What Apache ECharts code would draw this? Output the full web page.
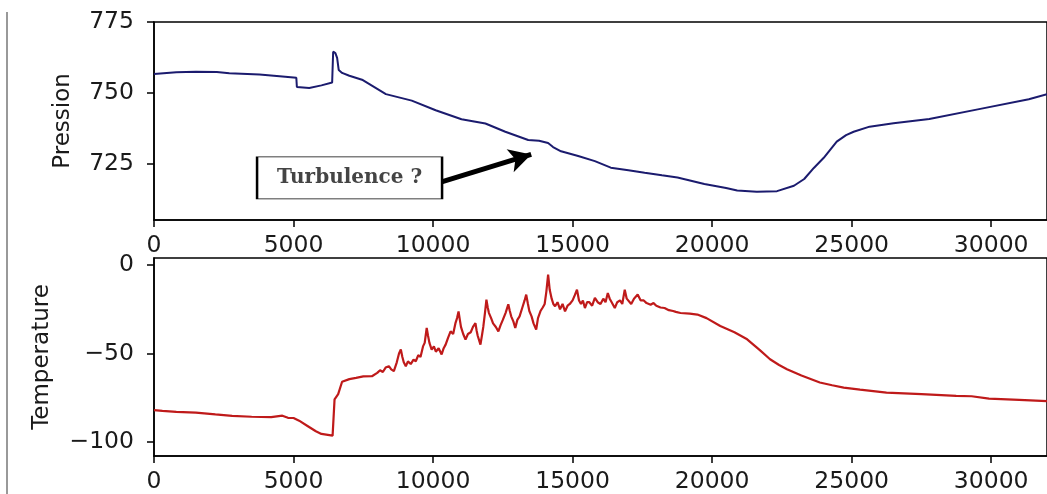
<!DOCTYPE html>
<html>
<head>
<meta charset="utf-8">
<script src="https://cdn.jsdelivr.net/npm/echarts@6/dist/echarts.min.js"></script>
<style>html,body{margin:0;padding:0;background:#fff;}#c{width:1047px;height:494px;}</style>
</head>
<body>
<div id="c"></div>
<script>
// Time axis ticks
const xTicks = [0, 5000, 10000, 15000, 20000, 25000, 30000];
const pressionTicks = [725, 750, 775];
const temperatureTicks = [-100, -50, 0];

// Pression series [x, value]
const pressionX = [0, 800, 1500, 2250, 2700, 3780, 4500, 5100, 5120, 5563, 6000, 6384, 6420, 6500, 6562, 6620, 6740, 7000, 7454, 8310, 9237, 10093, 11020, 11876, 12589, 13409, 13800, 14122, 14300, 14586, 15200, 15798, 16369, 17000, 17582, 18200, 18759, 19722, 20500, 20898, 21600, 22325, 22932, 23300, 23645, 24000, 24465, 24800, 25071, 25642, 26500, 27782, 29565, 31348, 32000];
const pressionY = [756.6, 757.2, 757.4, 757.3, 756.9, 756.4, 755.8, 755.3, 752.0, 751.7, 752.6, 753.6, 764.5, 764, 762.3, 758, 757, 756, 754.6, 749.5, 747.2, 743.8, 740.6, 739.1, 736.2, 733.3, 733.0, 732.2, 730.8, 729.3, 727.6, 725.8, 723.5, 722.6, 721.7, 720.8, 720, 717.7, 716.3, 715.4, 715, 715.2, 717.1, 719.5, 723.4, 727, 732.7, 735, 736.2, 738, 739.2, 740.7, 744.2, 747.7, 749.5];

// Temperature series [x, value]
const temperatureX = [0, 300, 800, 1500, 2200, 2800, 3500, 4200, 4600, 4800, 5000, 5200, 5500, 5800, 6000, 6400, 6450, 6470, 6600, 6740, 7000, 7240, 7500, 7810,
  8000, 8100, 8200, 8300, 8417, 8500, 8595, 8700, 8780, 8845, 8900, 8950, 9023, 9100, 9200, 9300, 9380, 9470, 9550, 9640, 9700, 9772, 9820, 9870, 9950,
  10030, 10100, 10200, 10307, 10380, 10450, 10540, 10628, 10720, 10800, 10860, 10913, 10960, 11000, 11080, 11163, 11250, 11350, 11430, 11519, 11560, 11600,
  11698, 11760, 11800, 11860, 11912, 11960, 12000, 12080, 12150, 12250, 12340, 12420, 12500, 12600, 12696, 12750, 12800, 12880, 12946, 13020, 13100, 13200,
  13280, 13338, 13400, 13450, 13530, 13600, 13695, 13760, 13850, 13930, 14000, 14060, 14123, 14180, 14250, 14310, 14373, 14460, 14550, 14640, 14729, 14820,
  14900, 15000, 15080, 15157, 15230, 15300, 15370, 15442, 15520, 15600, 15700, 15799, 15900, 16000, 16100, 16180, 16262, 16330, 16400, 16512, 16600, 16700,
  16780, 16869, 16940, 17000, 17100, 17200, 17332, 17440, 17550, 17650, 17796, 17900, 18000, 18150, 18295, 18450, 18600, 18700, 18866,
  19200, 19472, 19800, 20292, 20800, 21255, 21700, 22076, 22400, 22682, 23200, 23859, 24300, 24715, 25300, 26248, 27500, 28745, 29300, 29922, 31000, 32000];
const temperatureY = [-82, -82.5, -83, -83.5, -84.5, -85.3, -85.8, -86, -85.2, -86.4, -86.5, -88, -91, -94, -95.5, -96.5, -97, -76, -73, -66, -64.5, -63.8, -63, -62.9,
  -61, -59.5, -60.5, -58, -57.2, -59, -60, -55, -50, -47.8, -52, -55, -57.2, -54.5, -56, -53.5, -54.4, -51, -52, -46, -44, -35.6, -40, -44, -47.8,
  -46, -49, -47, -50.6, -47, -45, -41, -37.5, -39, -33, -30, -26.2, -31, -35, -39, -42.2, -39, -38, -35, -32.8, -37, -40,
  -45, -39, -35, -27, -19.6, -24, -27, -30, -33, -35, -37.5, -34, -31, -27, -22.2, -26, -29, -32, -35.6, -31, -29, -24,
  -20, -16.7, -22, -26, -29, -33, -36.5, -30, -26, -24, -22, -15, -5.4, -14, -19, -22, -23.3, -21, -25, -22, -26.2, -23,
  -22, -20, -17, -13.9, -20, -22, -20, -24.3, -21, -21, -23, -18.6, -21, -22, -19, -21, -15.8, -19, -21, -24.3, -21, -20,
  -22, -13.9, -19, -20, -22, -19, -16.7, -20, -20, -21.5, -22.4, -21.5, -23, -24, -24.3, -25.5, -26, -26.5, -27.1,
  -27.5, -28, -30, -34.5, -38, -42, -48, -53.3, -56.5, -58.9, -62.5, -66.4, -68, -69.3, -70.5, -72.1, -73, -74, -74.2, -75.5, -76.2, -77];

// Annotation
const noteText = 'Turbulence ?';
const noteAt = [7008, 719.9];
const arrowFrom = [10307, 718.5];
const arrowTo = [13516, 728.2];

const pair = (xs, ys) => xs.map((x, i) => [x, ys[i]]);
const FONT = 'DejaVu Sans';
const TXT = '#1a1a1a';
const minus = v => String(v).replace('-', '\u2212');

function xAxisCfg(gi) {
  return {
    type: 'value', gridIndex: gi, min: 0, max: 32000,
    axisLine: { show: true, onZero: false, lineStyle: { color: '#000', width: 1.5 } },
    axisTick: { show: true, length: 7, lineStyle: { color: '#000', width: 1.5 }, customValues: xTicks },
    axisLabel: { color: TXT, fontFamily: FONT, fontSize: 23.5, margin: 14, customValues: xTicks, formatter: v => String(v) },
    splitLine: { show: false }
  };
}
function yAxisCfg(gi, min, max, ticks, name, gap) {
  return {
    type: 'value', gridIndex: gi, min: min, max: max,
    name: name, nameLocation: 'middle', nameGap: gap,
    nameTextStyle: { color: TXT, fontFamily: FONT, fontSize: 23 },
    axisLine: { show: true, onZero: false, lineStyle: { color: '#000', width: 1.5 } },
    axisTick: { show: true, length: 7, lineStyle: { color: '#000', width: 1.5 }, customValues: ticks },
    axisLabel: { color: TXT, fontFamily: FONT, fontSize: 23.5, margin: 20, customValues: ticks, formatter: minus },
    splitLine: { show: false }
  };
}

const chart = echarts.init(document.getElementById('c'), null, { renderer: 'canvas' });
chart.setOption({
  animation: false,
  backgroundColor: '#fff',
  grid: [
    { left: 154, top: 22, width: 897.3, height: 198, show: true, borderColor: '#000', borderWidth: 1.5, backgroundColor: 'transparent' },
    { left: 154, top: 258, width: 897.3, height: 199, show: true, borderColor: '#000', borderWidth: 1.5, backgroundColor: 'transparent' }
  ],
  xAxis: [xAxisCfg(0), xAxisCfg(1)],
  yAxis: [
    yAxisCfg(0, 705, 775, pressionTicks, 'Pression', 79),
    yAxisCfg(1, -108, 4, temperatureTicks, 'Temperature', 100)
  ],
  graphic: [
    { type: 'line', shape: { x1: 7, y1: 12, x2: 7, y2: 494 }, style: { stroke: '#999', lineWidth: 2 } }
  ],
  series: [
    {
      type: 'line', xAxisIndex: 0, yAxisIndex: 0, data: pair(pressionX, pressionY),
      showSymbol: false, lineStyle: { color: '#1b1b6e', width: 2 }, z: 3,
      markLine: {
        silent: true, symbol: ['none', 'arrow'], symbolSize: [18, 22],
        lineStyle: { color: '#000', width: 5, type: 'solid' }, label: { show: false },
        data: [[{ coord: arrowFrom }, { coord: arrowTo }]]
      },
      markPoint: {
        silent: true, symbol: 'rect', symbolSize: [185, 42],
        itemStyle: { color: '#fff', borderColor: '#000', borderWidth: 1.2 },
        label: { show: true, position: 'inside', formatter: noteText, color: '#444', fontFamily: 'DejaVu Serif', fontWeight: 'bold', fontSize: 20 },
        data: [{ coord: noteAt }]
      }
    },
    {
      type: 'line', xAxisIndex: 1, yAxisIndex: 1, data: pair(temperatureX, temperatureY),
      showSymbol: false, lineStyle: { color: '#bf1a1a', width: 2.2 }, z: 3
    }
  ]
});
</script>
</body>
</html>
